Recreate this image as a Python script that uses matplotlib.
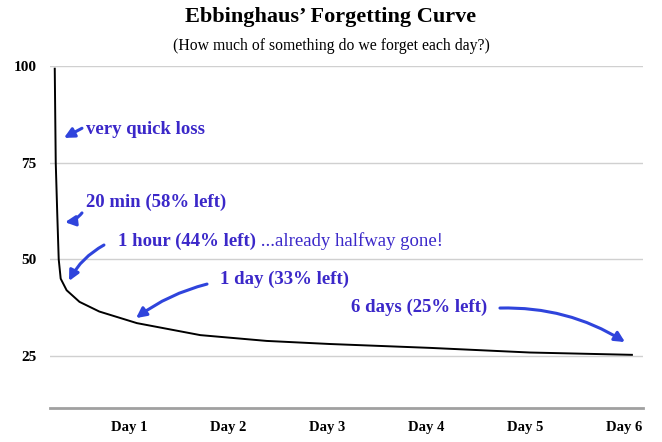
import matplotlib
matplotlib.use("Agg")
import matplotlib.pyplot as plt

# ---- data ----
days = [0.25, 0.255, 0.26, 0.275, 0.29, 0.31, 0.37, 0.5, 0.7, 1.08, 1.72, 2.39, 3.03, 4.04, 5.05, 6.08]
retention = [99.3, 87, 75, 62, 50, 45, 42, 39, 36.5, 33.5, 30.4, 28.9, 28.1, 27.1, 25.9, 25.3]
day_ticks = [1, 2, 3, 4, 5, 6]
day_labels = ["Day 1", "Day 2", "Day 3", "Day 4", "Day 5", "Day 6"]
y_ticks = [25, 50, 75, 100]

title = "Ebbinghaus\u2019 Forgetting Curve"
subtitle = "(How much of something do we forget each day?)"

SERIF = ["Liberation Serif", "DejaVu Serif"]
TXT = "#3b28c9"
ARR = "#2f44dc"
FS = 13.5

fig = plt.figure(figsize=(6.62, 4.42), dpi=100)
ax = fig.add_axes([50/662, 1-408/442, (643-50)/662, (408-66)/442])

ax.plot(days, retention, color="black", lw=1.4, solid_joinstyle="round")

ax.set_xlim(0.202, 6.192)
ax.set_ylim(11.55, 100)
ax.set_yticks(y_ticks)
ax.set_yticklabels([str(v) for v in y_ticks], family=SERIF, fontweight="bold", fontsize=11)
ax.set_xticks(day_ticks)
ax.set_xticklabels(day_labels, family=SERIF, fontweight="bold", fontsize=10.5)
ax.tick_params(axis="both", length=0)
ax.tick_params(axis="x", pad=9)
ax.tick_params(axis="y", pad=9.5)
ax.grid(axis="y", color="#d0d0d0", lw=1)
ax.set_axisbelow(True)
for s in ["top", "right", "left"]:
    ax.spines[s].set_visible(False)
ax.spines["bottom"].set_color("#a0a0a0")
ax.spines["bottom"].set_linewidth(2)

fig.text(0.5, 1-17/442, title, ha="center", va="center", family=SERIF,
         fontweight="bold", fontsize=16)
fig.text(0.5, 1-46/442, subtitle, ha="center", va="center", family=SERIF, fontsize=11.3)

def note(x, y, s, **kw):
    ax.text(x, y, s, color=TXT, family=SERIF, fontweight="bold", fontsize=FS,
            va="center", ha="left", **kw)

def arrow(tail, tip, rad):
    ax.annotate("", xy=tip, xytext=tail,
                arrowprops=dict(arrowstyle="-|>,head_length=0.6,head_width=0.3",
                                color=ARR, lw=2.2,
                                connectionstyle=f"arc3,rad={rad}",
                                shrinkA=0, shrinkB=0))

note(0.566, 83.7, "very quick loss")
arrow((0.525, 83.9), (0.343, 81.4), 0.0)

note(0.566, 64.8, "20 min (58% left)")
arrow((0.525, 62.0), (0.354, 59.6), -0.2)

t = ax.text(0.889, 54.7, "1 hour (44% left)", color=TXT, family=SERIF,
            fontweight="bold", fontsize=FS, va="center", ha="left")
ax.annotate(" ...already halfway gone!", xy=(1, 0.5), xycoords=t,
            va="center", ha="left", color=TXT, family=SERIF, fontsize=FS)
arrow((0.747, 53.7), (0.394, 44.4), 0.15)

note(1.919, 44.9, "1 day (33% left)")
arrow((1.788, 43.6), (1.071, 34.8), 0.1)

note(3.242, 37.7, "6 days (25% left)")
arrow((4.747, 37.4), (6.01, 28.6), -0.15)

fig.savefig("out.png", dpi=100)
